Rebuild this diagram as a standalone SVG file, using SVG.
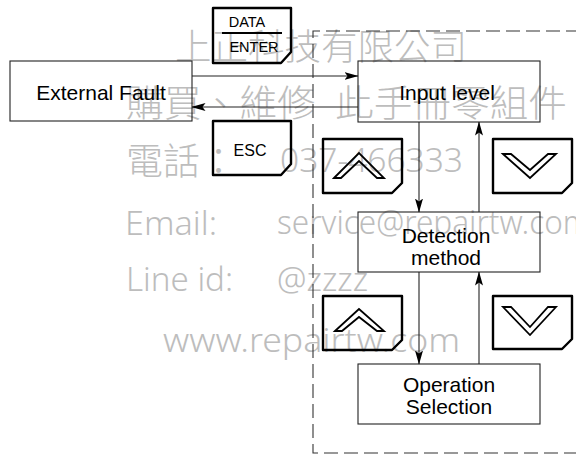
<svg xmlns="http://www.w3.org/2000/svg" width="576" height="456" viewBox="0 0 576 456">
<style>
.wm{fill:#bdbdbd;font-family:"Noto Sans","Noto Sans CJK TC",sans-serif;font-weight:300}
.box{fill:none;stroke:#222;stroke-width:1.1}
.key{fill:none;stroke:#000;stroke-width:2.4;stroke-linejoin:round}
.chev{fill:none;stroke:#000;stroke-width:1.8;stroke-linejoin:miter}
.lbl{font-family:"Liberation Sans",Arial,sans-serif;font-size:21px;fill:#000;text-anchor:middle}
.klbl{font-family:"Liberation Sans",Arial,sans-serif;fill:#000;text-anchor:middle}
.con{fill:none;stroke:#222;stroke-width:1.1}
.dash{fill:none;stroke:#333;stroke-width:1.1;stroke-dasharray:14 6}
</style>
<defs>
<marker id="ah" viewBox="0 0 14 8" refX="13.5" refY="4" markerWidth="14" markerHeight="8" markerUnits="userSpaceOnUse" orient="auto">
<path d="M0,0 L14,4 L0,8 L3,4 Z" fill="#000"/>
</marker>
</defs>
<rect width="576" height="456" fill="#fff"/>

<g id="watermark">
<text class="wm" x="175" y="60" font-size="36" textLength="292" lengthAdjust="spacingAndGlyphs">上正科技有限公司</text>
<text class="wm" x="126" y="117" font-size="37" textLength="189" lengthAdjust="spacingAndGlyphs">購買、維修</text>
<text class="wm" x="335" y="117" font-size="37" textLength="232" lengthAdjust="spacingAndGlyphs">此手冊零組件</text>
<text class="wm" x="126" y="175" font-size="37" textLength="111" lengthAdjust="spacingAndGlyphs">電話：</text>
<text class="wm" x="280" y="172" font-size="33" textLength="183" lengthAdjust="spacingAndGlyphs">037-466333</text>
<text class="wm" x="125" y="235" font-size="33" textLength="92" lengthAdjust="spacingAndGlyphs">Email:</text>
<text class="wm" x="277" y="234" font-size="33" textLength="314" lengthAdjust="spacingAndGlyphs">service@repairtw.com</text>
<text class="wm" x="126" y="291" font-size="33" textLength="107" lengthAdjust="spacingAndGlyphs">Line id:</text>
<text class="wm" x="277" y="291" font-size="33" textLength="91" lengthAdjust="spacingAndGlyphs">@zzzz</text>
<text class="wm" x="163" y="352" font-size="33" textLength="297" lengthAdjust="spacingAndGlyphs">www.repairtw.com</text>
</g>

<g id="mode-frame">
<path class="dash" d="M580,31 H313 V453 H580"/>
</g>

<g id="external-fault">
<rect class="box" x="10" y="61" width="182" height="60"/>
<text class="lbl" x="101" y="100">External Fault</text>
</g>

<g id="key-data-enter">
<path class="key" d="M213,8 H291 V52 L281,63 H213 Z"/>
<text class="klbl" x="247" y="27" font-size="14.5">DATA</text>
<line x1="222" y1="33" x2="282" y2="33" stroke="#000" stroke-width="2"/>
<text class="klbl" x="254" y="52" font-size="14.5">ENTER</text>
</g>

<g id="key-esc">
<path class="key" d="M213,121 H291 V164 L281,175 H213 Z"/>
<text class="klbl" x="250" y="156" font-size="16">ESC</text>
</g>

<g id="input-level">
<rect class="box" x="358" y="61" width="182" height="61"/>
<text class="lbl" x="447" y="100">Input level</text>
</g>

<g id="detection-method">
<rect class="box" x="358" y="212" width="182" height="60"/>
<text class="lbl" x="446" y="243">Detection</text>
<text class="lbl" x="446" y="265">method</text>
</g>

<g id="operation-selection">
<rect class="box" x="358" y="364" width="182" height="60"/>
<text class="lbl" x="449" y="392">Operation</text>
<text class="lbl" x="449" y="414">Selection</text>
</g>

<g id="key-up-1">
<path class="key" d="M323,139 H402 V183 L392,193 H323 Z"/>
<path class="chev" d="M334,178 L359,153 L384,178 L377,178 L359,161 L341,178 Z"/>
</g>

<g id="key-down-1">
<path class="key" d="M493,139 H572 V183 L562,193 H493 Z"/>
<path class="chev" d="M503,154 L530,178 L556,154 L548,154 L530,170 L511,154 Z"/>
</g>

<g id="key-up-2">
<path class="key" d="M323,296 H402 V340 L392,350 H323 Z"/>
<path class="chev" d="M335,331 L359,309 L384,331 L377,331 L359,317 L342,331 Z"/>
</g>

<g id="key-down-2">
<path class="key" d="M493,296 H572 V339 L562,349 H493 Z"/>
<path class="chev" d="M503,307 L530,335 L556,307 L548,307 L530,327 L511,307 Z"/>
</g>

<g id="connectors">
<line class="con" x1="192" y1="76" x2="358" y2="76" marker-end="url(#ah)"/>
<line class="con" x1="358" y1="107" x2="192" y2="107" marker-end="url(#ah)"/>
<line class="con" x1="419" y1="122" x2="419" y2="212" marker-end="url(#ah)"/>
<line class="con" x1="479" y1="212" x2="479" y2="122" marker-end="url(#ah)"/>
<line class="con" x1="419" y1="272" x2="419" y2="364" marker-end="url(#ah)"/>
<line class="con" x1="479" y1="364" x2="479" y2="272" marker-end="url(#ah)"/>
</g>
</svg>
